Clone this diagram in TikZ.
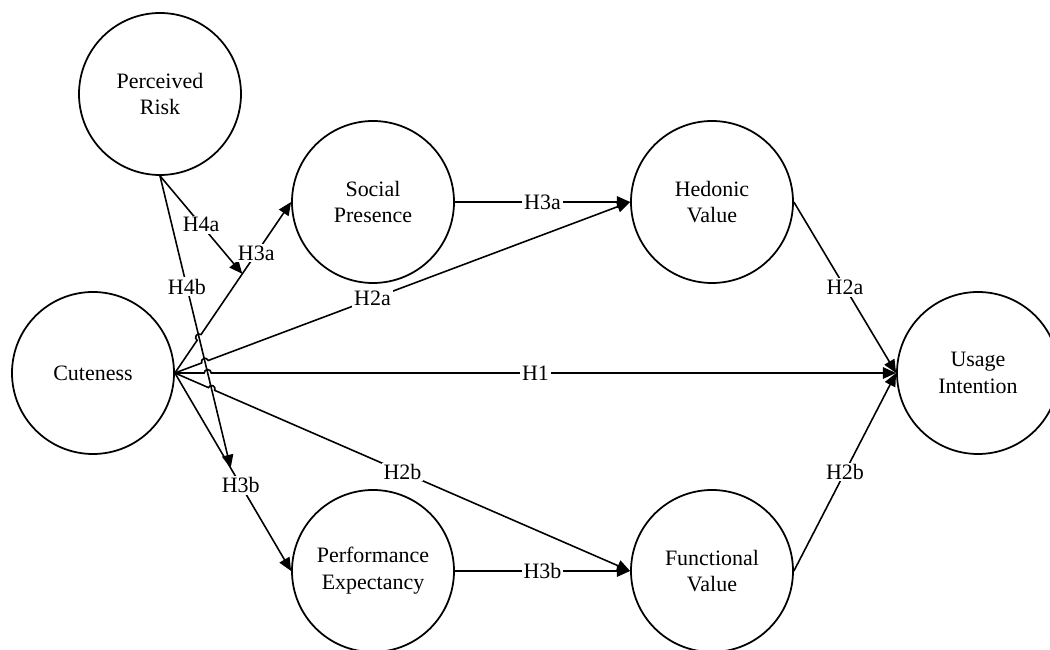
\documentclass[tikz,border=0pt]{standalone}
\usepackage{fontspec}
\setmainfont{Liberation Serif}
\usepackage{tikz}
\usetikzlibrary{positioning,calc,arrows.meta}

\begin{document}
\begin{tikzpicture}[
    construct/.style={circle, draw, line width=1pt, minimum size=3.24cm, inner sep=0pt, align=center, font=\fontsize{12.5}{15.3}\selectfont},
    edge/.style={line width=0.9pt, -{Triangle[length=7.5pt, width=6.5pt]}},
    lbl/.style={fill=white, inner sep=1pt, font=\fontsize{12.5}{15.3}\selectfont}
]
    \useasboundingbox (0, 0) rectangle (21, -13);

    % Constructs
    \node [construct] (risk) at (3.20, -1.88) {Perceived\\Risk};
    \node [construct] (cute) at (1.86, -7.46) {Cuteness};
    \node [construct] (social) at (7.46, -4.04) {Social\\Presence};
    \node [construct] (hed) at (14.24, -4.04) {Hedonic\\Value};
    \node [construct] (use) at (19.56, -7.46) {Usage\\Intention};
    \node [construct] (perf) at (7.46, -11.42) {Performance\\Expectancy};
    \node [construct] (func) at (14.24, -11.42) {Functional\\Value};

    % Points where the moderators meet the paths
    \path (cute.east) -- coordinate [pos=0.58] (h3amod) (social.west);
    \path (cute.east) -- coordinate [pos=0.48] (h3bmod) (perf.west);

    % Moderation by perceived risk
    \draw [edge] (risk.south) -- node [lbl, pos=0.5] {H4a} (h3amod);
    \draw [edge] (risk.south) -- node [lbl, pos=0.38] {H4b} (h3bmod);

    % Paths from cuteness, hopping over H4b
    \foreach \dst/\lab/\where in {social/H3a/0.7, hed/H2a/0.434, use/H1/0.5, func/H2b/0.5} {
        \coordinate (hop) at (intersection of cute.east--\dst.west and risk.south--h3bmod);
        \draw [edge] let \p1 = ($(\dst.west)-(cute.east)$), \n1 = {atan2(\y1, \x1)} in
            (cute.east) -- ($(hop)!0.07cm!(cute.east)$)
            arc [start angle=\n1+180, end angle=\n1, radius=0.07cm] -- (\dst.west);
        \node [lbl] at ($(cute.east)!\where!(\dst.west)$) {\lab};
    }
    \draw [edge] (cute.east) -- node [lbl, pos=0.566] {H3b} (perf.west);

    % Mediators to values
    \draw [edge] (social) -- node [lbl] {H3a} (hed);
    \draw [edge] (perf) -- node [lbl] {H3b} (func);

    % Values to intention
    \draw [edge] (hed.east) -- node [lbl] {H2a} (use.west);
    \draw [edge] (func.east) -- node [lbl] {H2b} (use.west);
\end{tikzpicture}
\end{document}
